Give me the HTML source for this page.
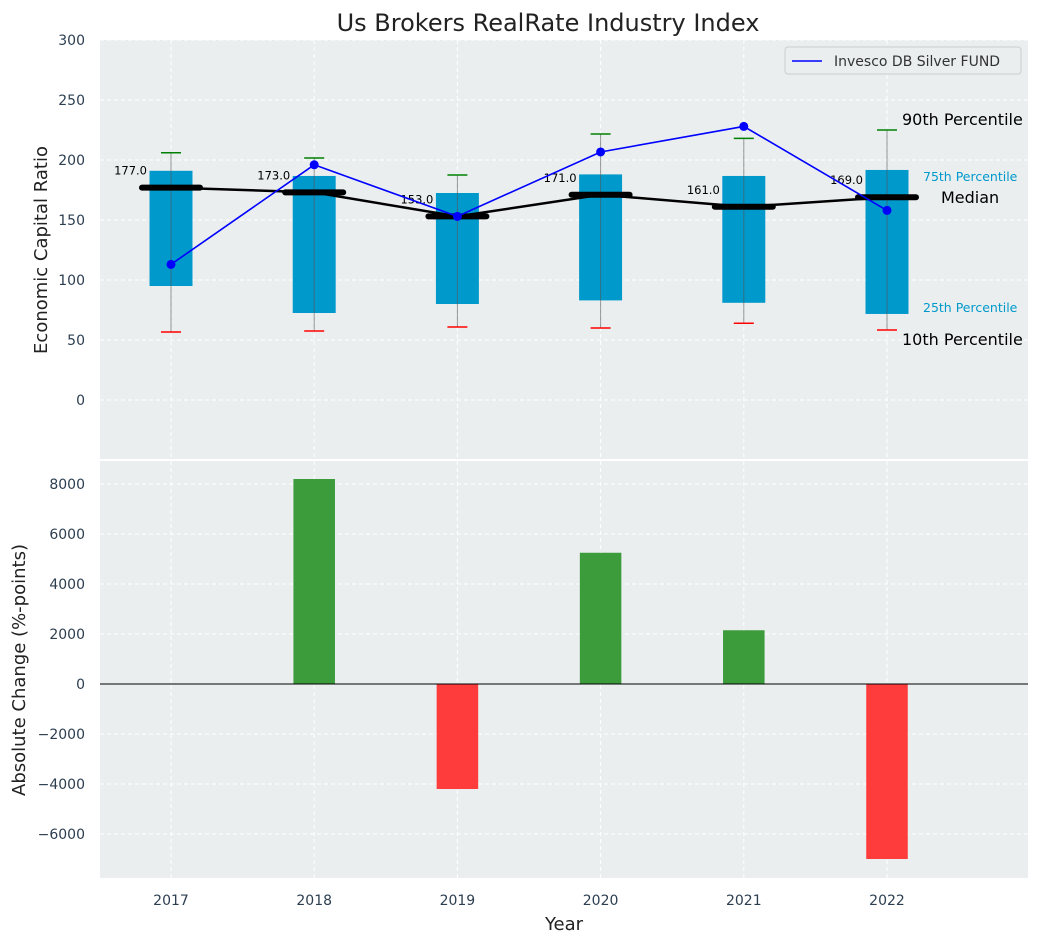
<!DOCTYPE html>
<html><head><meta charset="utf-8"><style>
body{margin:0;background:#fff;font-family:"Liberation Sans","DejaVu Sans",sans-serif;}
svg text{font-family:"DejaVu Sans","Liberation Sans",sans-serif;}
</style></head><body>
<svg id="chart" width="1039" height="942" viewBox="0 0 1039 942" xmlns="http://www.w3.org/2000/svg"></svg>
<script>
const years=[2017,2018,2019,2020,2021,2022];
const p90=[206,201.7,187.5,221.7,218,225];
const p75=[191,186.7,172.5,188,186.7,191.7];
const medians=[177,173,153,171,161,169];
const p25=[95,72.5,80,83,81,71.7];
const p10=[56.7,57.5,60.8,60,64,58.3];
const fund=[113,196,153,206.7,228,158];
const changes=[0,8200,-4200,5250,2150,-7000];
const topTicks=[0,50,100,150,200,250,300];
const botTicks=[-6000,-4000,-2000,0,2000,4000,6000,8000];

const NS="http://www.w3.org/2000/svg";
const svg=document.getElementById('chart');
function el(tag,attrs,parent){const e=document.createElementNS(NS,tag);for(const k in attrs)e.setAttribute(k,attrs[k]);(parent||svg).appendChild(e);return e;}
const X0=100,X1=1028;
const xs=v=>171+(v-2017)*143.2;
const yt=v=>400-v*1.2;
const yb=v=>684-v*0.025;
const fmt=v=>v<0?'\u2212'+Math.abs(v):String(v);

let r=el('rect',{x:X0,y:40,width:X1-X0,height:419,fill:'#eaeeef'});

r=el('rect',{x:X0,y:461,width:X1-X0,height:417,fill:'#eaeeef'});


years.forEach(y=>{
  el('line',{x1:xs(y),x2:xs(y),y1:40,y2:459,stroke:'#fff','stroke-dasharray':'4,3'});
  el('line',{x1:xs(y),x2:xs(y),y1:461,y2:878,stroke:'#fff','stroke-dasharray':'4,3'});
});
topTicks.forEach(t=>{
  el('line',{x1:X0,x2:X1,y1:yt(t),y2:yt(t),stroke:'#fff','stroke-dasharray':'4,3'});
  const tx=el('text',{x:85,y:yt(t)+5,'text-anchor':'end','font-size':14,fill:'#2c3e50'});tx.textContent=fmt(t);
  
});
botTicks.forEach(t=>{
  el('line',{x1:X0,x2:X1,y1:yb(t),y2:yb(t),stroke:'#fff','stroke-dasharray':'4,3'});
  const tx=el('text',{x:85,y:yb(t)+5,'text-anchor':'end','font-size':14,fill:'#2c3e50'});tx.textContent=fmt(t);
  
});

const bw=0.3;
years.forEach((y,i)=>{
  const cx=xs(y);
  const w=xs(y+bw/2)-xs(y-bw/2);
  const b=el('rect',{x:cx-w/2,y:yt(p75[i]),width:w,height:yt(p25[i])-yt(p75[i]),fill:'#0099cc'});
  
  const wl=el('line',{x1:cx,x2:cx,y1:yt(p90[i]),y2:yt(p10[i]),stroke:'#555','stroke-width':1,opacity:0.6});
  
  const c1=el('line',{x1:cx-10,x2:cx+10,y1:yt(p90[i]),y2:yt(p90[i]),stroke:'green','stroke-width':1.5});
  
  const c2=el('line',{x1:cx-10,x2:cx+10,y1:yt(p10[i]),y2:yt(p10[i]),stroke:'red','stroke-width':1.5});
  
});
let pts=years.map((y,i)=>xs(y)+','+yt(medians[i])).join(' ');
let ml=el('polyline',{points:pts,fill:'none',stroke:'#000','stroke-width':2.5});

years.forEach((y,i)=>{
  const cx=xs(y);
  const m=el('line',{x1:cx-29,x2:cx+29,y1:yt(medians[i]),y2:yt(medians[i]),stroke:'#000','stroke-width':6,'stroke-linecap':'round'});
  
  const t=el('text',{x:cx-24,y:yt(medians[i])-13,'text-anchor':'end','font-size':11.5,fill:'#000'});t.textContent=medians[i].toFixed(1);
  
});
pts=years.map((y,i)=>xs(y)+','+yt(fund[i])).join(' ');
let fl=el('polyline',{points:pts,fill:'none',stroke:'blue','stroke-width':1.6});

years.forEach((y,i)=>{
  const c=el('circle',{cx:xs(y),cy:yt(fund[i]),r:4.5,fill:'blue'});
  
});
const lx=xs(2022);
[['90th Percentile',p90[5],15,'#000',16,-5],['75th Percentile',p75[5],36,'#0099cc',12.5,11],['Median',medians[5],54,'#000',16,6],['25th Percentile',p25[5],36,'#0099cc',12.5,-2],['10th Percentile',p10[5],15,'#000',16,15]].forEach(a=>{
  const t=el('text',{x:lx+a[2],y:yt(a[1])+a[5],'font-size':a[4],fill:a[3]});t.textContent=a[0];
  
});
let lg=el('g',{});
el('rect',{x:785,y:47,width:236,height:27,fill:'#eaeeef',stroke:'#ccc',rx:3},lg);
el('line',{x1:792,x2:822,y1:61,y2:61,stroke:'blue','stroke-width':1.6},lg);
let lt=el('text',{x:834,y:66,'font-size':14,fill:'#333'},lg);lt.textContent='Invesco DB Silver FUND';


const barW=0.29;
years.forEach((y,i)=>{
  const v=changes[i];if(v===0)return;
  const w=xs(y+barW/2)-xs(y-barW/2);
  const b=el('rect',{x:xs(y)-w/2,y:Math.min(yb(v),yb(0)),width:w,height:Math.abs(yb(v)-yb(0)),fill:v>0?'#3c9c3c':'#ff3c3c'});
  
});
let zl=el('line',{x1:X0,x2:X1,y1:yb(0),y2:yb(0),stroke:'#000','stroke-width':1});


years.forEach(y=>{
  const t=el('text',{x:xs(y),y:905,'text-anchor':'middle','font-size':14,fill:'#2c3e50'});t.textContent=y;
  
});
let t=el('text',{x:564,y:930,'text-anchor':'middle','font-size':18,fill:'#222'});t.textContent='Year';

t=el('text',{x:0,y:0,'text-anchor':'middle','font-size':18,fill:'#222',transform:'translate(47,250) rotate(-90)'});t.textContent='Economic Capital Ratio';

t=el('text',{x:0,y:0,'text-anchor':'middle','font-size':18,fill:'#222',transform:'translate(25,670) rotate(-90)'});t.textContent='Absolute Change (%-points)';

t=el('text',{x:548,y:31,'text-anchor':'middle','font-size':24,fill:'#222'});t.textContent='Us Brokers RealRate Industry Index';

</script>
</body></html>
